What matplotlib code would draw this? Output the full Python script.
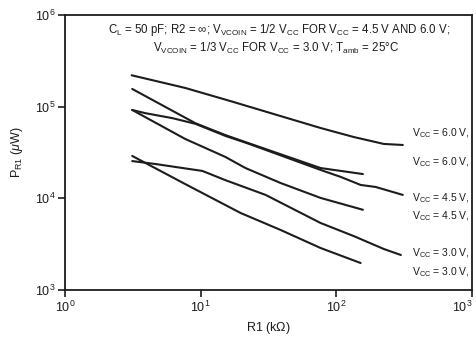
import matplotlib
matplotlib.use("Agg")
import matplotlib.pyplot as plt

plt.rcParams['font.family'] = ['Liberation Sans', 'DejaVu Sans']
plt.rcParams['mathtext.fontset'] = 'custom'
plt.rcParams['mathtext.rm'] = 'Liberation Sans'
plt.rcParams['mathtext.it'] = 'Liberation Sans:italic'
plt.rcParams['mathtext.bf'] = 'Liberation Sans:bold'

# R1 (kOhm) and power dissipation P_R1 (uW) for each supply voltage
r1_60_a = [3.1, 7.7, 16.6, 38.8, 76.6, 134, 224, 309]
p_60_a = [2.2e5, 1.6e5, 1.15e5, 7.9e4, 5.85e4, 4.67e4, 3.92e4, 3.82e4]

r1_60_b = [3.13, 9.14, 15.2, 22.5, 76.6, 157]
p_60_b = [1.56e5, 6.6e4, 4.9e4, 4.0e4, 2.14e4, 1.84e4]

r1_45_a = [3.13, 3.9, 6.18, 9.14, 15.2, 22.5, 76.6, 108, 151, 195, 309]
p_45_a = [9.2e4, 8.5e4, 7.5e4, 6.5e4, 4.8e4, 3.95e4, 2.04e4, 1.71e4, 1.40e4, 1.33e4, 1.09e4]

r1_45_b = [3.13, 7.7, 15.2, 21.4, 38.8, 76.6, 157]
p_45_b = [9.2e4, 4.44e4, 2.83e4, 2.14e4, 1.47e4, 1.01e4, 7.5e3]

r1_30_a = [3.13, 4.62, 10.3, 15.2, 30.1, 76.6, 134, 224, 299]
p_30_a = [2.55e4, 2.37e4, 1.99e4, 1.58e4, 1.09e4, 5.38e3, 3.88e3, 2.8e3, 2.41e3]

r1_30_b = [3.13, 7.7, 19.7, 38.8, 76.6, 151]
p_30_b = [2.9e4, 1.43e4, 6.92e3, 4.52e3, 2.87e3, 1.97e3]

curve_labels = [r'$\mathregular{V_{CC}}$ = 6.0 V,', r'$\mathregular{V_{CC}}$ = 6.0 V,',
                r'$\mathregular{V_{CC}}$ = 4.5 V,', r'$\mathregular{V_{CC}}$ = 4.5 V,',
                r'$\mathregular{V_{CC}}$ = 3.0 V,', r'$\mathregular{V_{CC}}$ = 3.0 V,']

ink = '#1c1c1c'

fig = plt.figure(figsize=(4.76, 3.41), dpi=100)
fig.patch.set_facecolor('white')
ax = fig.add_axes([65 / 476, 1 - 290 / 341, 407 / 476, 275 / 341])

for r, p in [(r1_60_a, p_60_a), (r1_60_b, p_60_b), (r1_45_a, p_45_a),
             (r1_45_b, p_45_b), (r1_30_a, p_30_a), (r1_30_b, p_30_b)]:
    ax.plot(r, p, color=ink, lw=1.5, solid_capstyle='round', solid_joinstyle='round')

ax.set_xscale('log')
ax.set_yscale('log')
ax.set_xlim(1, 1000)
ax.set_ylim(1e3, 1e6)
ax.minorticks_off()
ax.set_xticks([1, 10, 100, 1000])
ax.set_yticks([1e3, 1e4, 1e5, 1e6])
ax.tick_params(direction='out', length=5, width=1.2, color=ink, labelsize=9,
               labelcolor=ink, pad=2)
for s in ax.spines.values():
    s.set_linewidth(1.3)
    s.set_color(ink)

# keep the last x tick label inside the figure
ax.xaxis.get_major_ticks()[-1].label1.set_horizontalalignment('right')

ax.set_xlabel(r'R1 (k$\Omega$)', fontsize=9, color=ink, labelpad=4)
ax.set_ylabel(r'$\mathregular{P_{R1}}$ ($\mu$W)', fontsize=9, color=ink, labelpad=7)

ax.text(0.525, 0.945,
        r'$\mathregular{C_L}$ = 50 pF; R2 = $\infty$; $\mathregular{V_{VCOIN}}$ = 1/2 $\mathregular{V_{CC}}$ FOR $\mathregular{V_{CC}}$ = 4.5 V AND 6.0 V;',
        transform=ax.transAxes, ha='center', va='center', fontsize=8.3, color=ink)
ax.text(0.518, 0.878,
        r'$\mathregular{V_{VCOIN}}$ = 1/3 $\mathregular{V_{CC}}$ FOR $\mathregular{V_{CC}}$ = 3.0 V; $\mathregular{T_{amb}}$ = 25$\degree$C',
        transform=ax.transAxes, ha='center', va='center', fontsize=8.3, color=ink)

label_y = [133, 162, 198, 216, 253, 272]
for lab, py in zip(curve_labels, label_y):
    ax.text((412 - 65) / 407, (290 - py) / 275, lab, transform=ax.transAxes,
            ha='left', va='center', fontsize=7.5, color=ink, clip_on=False,
            bbox=dict(facecolor='white', edgecolor='none', pad=0.5), zorder=5)

fig.savefig('out.png', dpi=100, facecolor='white')
